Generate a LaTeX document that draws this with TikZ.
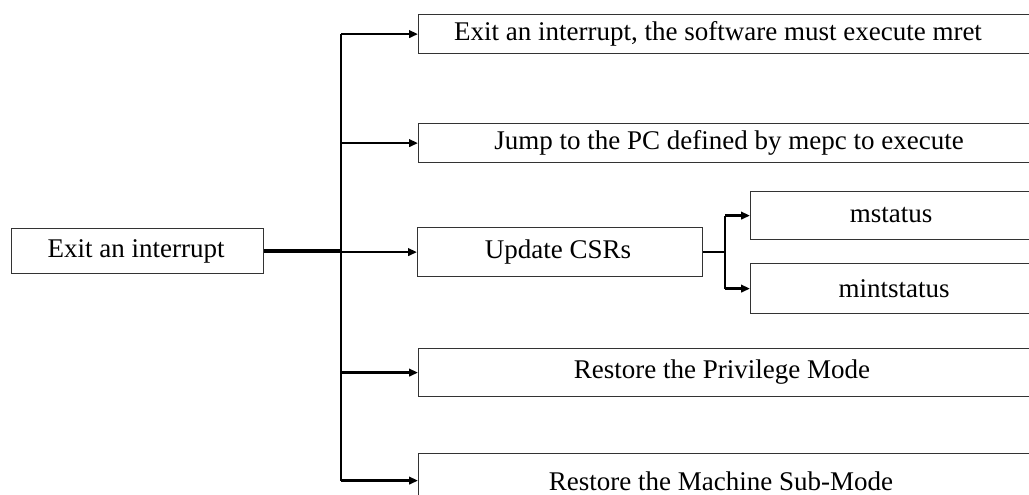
\documentclass[tikz,border=0pt]{standalone}
\usepackage{fontspec}
\setmainfont{Liberation Serif}
\usetikzlibrary{arrows.meta}
\begin{document}
\begin{tikzpicture}[x=1pt,y=-1pt,
  box/.style={draw=black!80, line width=1.2pt, rectangle, inner sep=0pt, anchor=north west},
  lbl/.style={font=\fontsize{27}{30}\selectfont, inner sep=0pt, anchor=center},
  conn/.style={line width=2.3pt, black},
  thickconn/.style={line width=3.4pt, black},
  arr/.style={conn, -{Triangle[length=9pt,width=7.5pt]}},
]
\useasboundingbox (0,0) rectangle (1029,495);
\clip (0,0) rectangle (1029,495);

% boxes (the wide ones run on past the right edge)
\node[box, minimum width=252pt, minimum height=45pt] (exit) at (11,228) {};
\node[box, minimum width=642pt, minimum height=39pt] (mret) at (418,14) {};
\node[box, minimum width=642pt, minimum height=39pt] (mepc) at (418,123) {};
\node[box, minimum width=285pt, minimum height=49pt] (csrs) at (417,227) {};
\node[box, minimum width=310pt, minimum height=48pt] (mst) at (750,191) {};
\node[box, minimum width=310pt, minimum height=50pt] (mint) at (750,263) {};
\node[box, minimum width=642pt, minimum height=48pt] (priv) at (418,348) {};
\node[box, minimum width=642pt, minimum height=54pt] (sub) at (418,453) {};

% labels
\node[lbl] (exitT) at (136,251) {Exit an interrupt};
\node[lbl] (mretT) at (718,34) {Exit an interrupt, the software must execute mret};
\node[lbl] (mepcT) at (729,143) {Jump to the PC defined by mepc to execute};
\node[lbl] (csrsT) at (558,252) {Update CSRs};
\node[lbl] (mstT) at (891,215) {mstatus};
\node[lbl] (mintT) at (894,289) {mintstatus};
\node[lbl] (privT) at (722,372) {Restore the Privilege Mode};
\node[lbl] (subT) at (721,481) {Restore the Machine Sub-Mode};

% main fan-out
\coordinate (trunk) at (341,252);
\draw[thickconn] (exit.east) -- (exit.east -| trunk);
\draw[conn] (trunk |- mret.west) -- (trunk |- sub.west);
\draw[arr] (trunk |- mret.west) -- (mret.west);
\draw[arr] (trunk |- mepc.west) -- (mepc.west);
\draw[arr] (trunk |- csrs.west) -- (csrs.west);
\draw[arr] (trunk |- priv.west) -- (priv.west);
\draw[arr] (trunk |- sub.west) -- (sub.west);

% CSR fan-out
\coordinate (csr) at (725,252);
\draw[conn] (csrs.east) -- (csrs.east -| csr);
\draw[conn] (csr |- mst.west) -- (csr |- mint.west);
\draw[arr] (csr |- mst.west) -- (mst.west);
\draw[arr] (csr |- mint.west) -- (mint.west);
\end{tikzpicture}
\end{document}
